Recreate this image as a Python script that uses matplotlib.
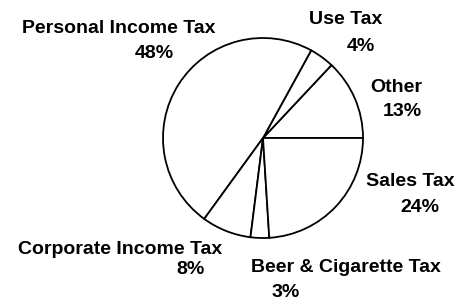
import matplotlib
matplotlib.use("Agg")
import matplotlib.pyplot as plt

categories = ["Other", "Use Tax", "Personal Income Tax", "Corporate Income Tax",
              "Beer & Cigarette Tax", "Sales Tax"]
values = [13, 4, 48, 8, 3, 24]
pct_labels = [f"{v}%" for v in values]

# label positions in pixel coords (x, y from top): name line, percent line
name_pos = {
    "Other": (396, 87),
    "Use Tax": (346, 19),
    "Personal Income Tax": (119, 28),
    "Corporate Income Tax": (120, 250),
    "Beer & Cigarette Tax": (346, 267),
    "Sales Tax": (410, 182),
}
pct_pos = {
    "Other": (402, 111),
    "Use Tax": (361, 46),
    "Personal Income Tax": (154, 53),
    "Corporate Income Tax": (191, 270),
    "Beer & Cigarette Tax": (286, 293),
    "Sales Tax": (420, 207),
}

W, H = 460, 300
fig = plt.figure(figsize=(4.6, 3.0), dpi=100)
ax = fig.add_axes([0, 0, 1, 1])
ax.pie(values, startangle=0, counterclock=True, center=(263, H - 138), radius=100,
       wedgeprops=dict(facecolor="white", edgecolor="black", linewidth=1.3))
ax.set_xlim(0, W)
ax.set_ylim(0, H)
ax.set_aspect("equal")
ax.axis("off")

font = dict(family=["Liberation Sans", "DejaVu Sans"], fontsize=14, fontweight="bold",
            ha="center", va="center", color="black")
for cat, p in zip(categories, pct_labels):
    x, y = name_pos[cat]
    ax.text(x, H - y, cat, **font)
    x, y = pct_pos[cat]
    ax.text(x, H - y, p, **font)

fig.savefig("out.png", dpi=100)
